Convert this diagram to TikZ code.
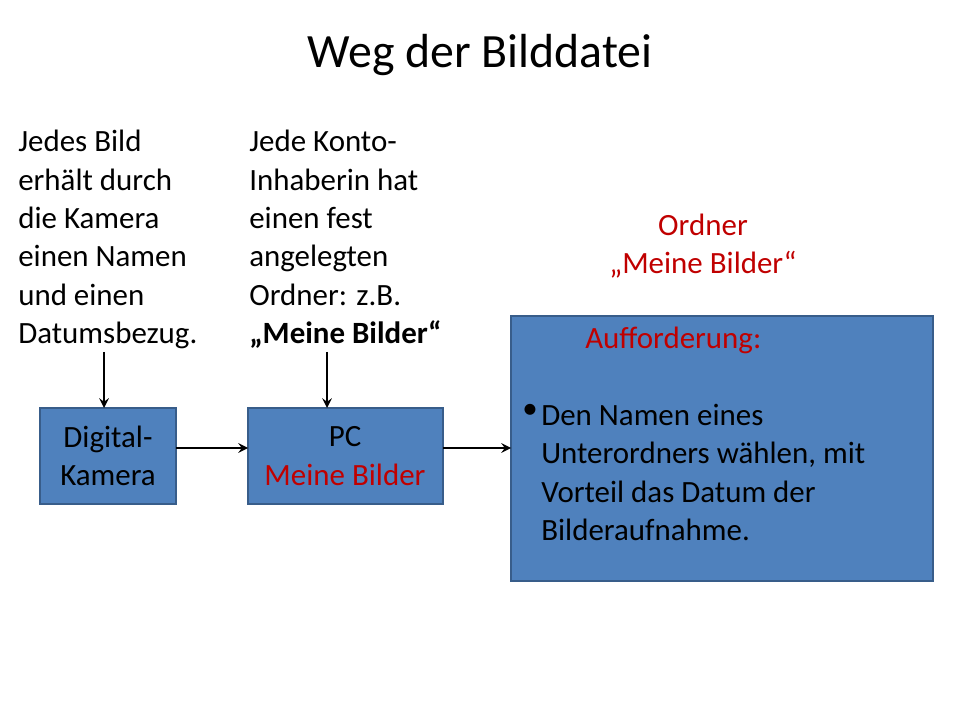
\documentclass[tikz,border=0pt]{standalone}
\usepackage{fontspec}
\setmainfont{Carlito}
\usetikzlibrary{positioning}
\definecolor{boxblue}{HTML}{4F81BD}
\definecolor{boxline}{HTML}{385D8A}
\definecolor{darkred}{HTML}{C00000}
\tikzset{
  flowbox/.style={draw=boxline, fill=boxblue, line width=1pt},
  note/.style={align=left, font=\fontsize{22}{27.3}\selectfont, inner sep=0pt},
  flow/.style={->, >=stealth, line width=2pt}
}
\begin{document}
\begin{tikzpicture}[x=0.025cm, y=-0.025cm]
  \useasboundingbox (0,0) rectangle (960,720);
  \node (title) at (480,55) {\fontsize{34}{40}\selectfont Weg der Bilddatei};
  % notes above the boxes
  \node[note, anchor=north west] (note1) at (18,130) {Jedes Bild\\erhält durch\\die Kamera\\einen Namen\\und einen\\Datumsbezug.};
  \node[note, anchor=north west] (note2) at (249,130) {Jede Konto-\\Inhaberin hat\\einen fest\\angelegten\\Ordner: z.B.\\\textbf{„Meine Bilder“}};
  \node[note, align=center, text=darkred] (folder) at (703,246) {Ordner\\„Meine Bilder“};
  % boxes
  \draw[flowbox] (40,408) rectangle (176,504);
  \node[note, align=center] (cam) at (108,456) {Digital-\\Kamera};
  \draw[flowbox] (248,408) rectangle (443,504);
  \node[note, align=center] (pc) at (345,456) {PC\\\textcolor{darkred}{Meine Bilder}};
  \draw[flowbox] (511,316) rectangle (933,581);
  \node[note, anchor=west, text=darkred] (task) at (585,340) {Aufforderung:};
  \node[note, anchor=north west] (bullet) at (522,404) {•};
  \node[note, anchor=north west] (tasktext) at (541,404) {Den Namen eines\\Unterordners wählen, mit\\Vorteil das Datum der\\Bilderaufnahme.};
  % connectors
  \coordinate (n1) at (104,352);
  \coordinate (n1e) at (104,408);
  \coordinate (n2) at (327,352);
  \coordinate (n2e) at (327,408);
  \coordinate (a1) at (176,448);
  \coordinate (a1e) at (248,448);
  \coordinate (a2) at (443,448);
  \coordinate (a2e) at (511,448);
  \draw[flow] (n1) -- (n1e);
  \draw[flow] (n2) -- (n2e);
  \draw[flow] (a1) -- (a1e);
  \draw[flow] (a2) -- (a2e);
\end{tikzpicture}
\end{document}
